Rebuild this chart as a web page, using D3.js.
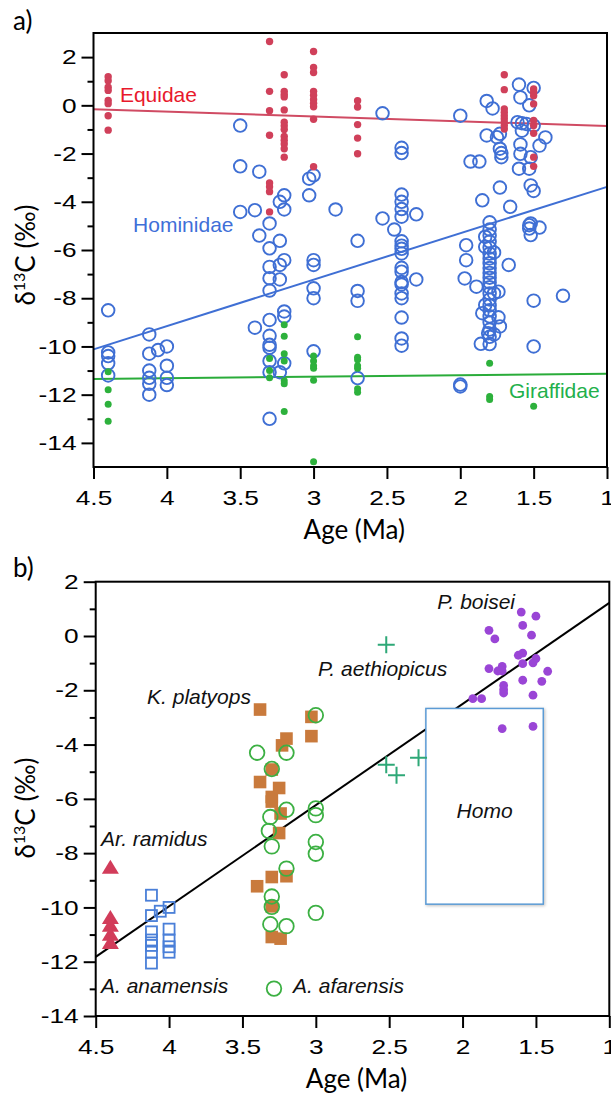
<!DOCTYPE html>
<html>
<head>
<meta charset="utf-8">
<script src="https://cdn.jsdelivr.net/npm/d3@7"></script>
<style>
  body { margin: 0; background: #fff; }
  svg { display: block; }
  .tick text { font-family: "Liberation Sans", Arial, sans-serif; font-size: 21px; fill: #000; }
  .tick line { stroke: #000; stroke-width: 2px; }
  .title { font-family: Lato, "Open Sans", sans-serif; font-size: 26px; fill: #000; }
  .lab { font-family: "Liberation Sans", Arial, sans-serif; font-size: 21px; }
  .sp { font-family: "Liberation Sans", Arial, sans-serif; font-size: 21px; font-style: italic; fill: #111; }
</style>
</head>
<body>
<svg id="chart" width="611" height="1094"></svg>
<script>
// ---------- panel a: [age (Ma), d13C] ----------
const equidae = [
  [4.4, 1.19], [4.4, 1.02], [4.4, 0.75], [4.4, 0.62], [4.4, 0.2], [4.4, 0.07], [4.4, -0.43], [4.4, -1.03],
  [3.3, 2.65], [3.3, 0.58], [3.3, -0.22], [3.3, -1.24], [3.3, -3.22], [3.3, -3.38], [3.3, -3.58], [3.3, -4.42],
  [3.2, 1.27], [3.2, 0.58], [3.2, 0.45], [3.2, 0.35], [3.2, -0.19], [3.2, -0.7], [3.2, -0.85], [3.2, -1.0],
  [3.2, -1.29], [3.2, -1.45], [3.2, -1.6], [3.2, -1.8], [3.2, -2.15],
  [3.0, 2.23], [3.0, 1.57], [3.0, 1.36], [3.0, 0.58], [3.0, 0.42], [3.0, 0.24], [3.0, 0.09], [3.0, -0.06],
  [3.0, -0.58], [3.0, -2.55],
  [2.7, 0.19], [2.7, -0.07], [2.7, -0.8], [2.7, -1.36], [2.7, -2.01],
  [1.7, 1.27], [1.7, 0.65], [1.7, -0.15], [1.7, -0.29], [1.7, -0.43], [1.7, -0.56], [1.7, -0.7], [1.7, -0.84], [1.7, -0.98],
  [1.5, 0.68], [1.5, 0.54], [1.5, 0.4], [1.5, 0.06], [1.5, -0.63], [1.5, -0.84], [1.5, -1.16], [1.5, -2.15], [1.5, -2.53]
];

const giraffidae = [
  [4.4, -11.05], [4.4, -11.8], [4.4, -12.4], [4.4, -13.1],
  [3.3, -10.5], [3.3, -11.0], [3.3, -11.3],
  [3.2, -9.1], [3.2, -9.58], [3.2, -10.3], [3.2, -10.6], [3.2, -11.42], [3.2, -11.55], [3.2, -12.7],
  [3.0, -10.4], [3.0, -10.6], [3.0, -10.8], [3.0, -10.9], [3.0, -11.4], [3.0, -14.78],
  [2.7, -9.6], [2.7, -10.45], [2.7, -10.55], [2.7, -10.8], [2.7, -10.9], [2.7, -11.75], [2.7, -11.9],
  [1.8, -10.7], [1.8, -12.08], [1.8, -12.2],
  [1.5, -12.48]
];

const hominidae = [
  [4.4, -8.5], [4.4, -10.25], [4.4, -10.4], [4.4, -10.7], [4.4, -11.2],
  [4.12, -9.5], [4.12, -10.3], [4.12, -11.0], [4.12, -11.3], [4.12, -11.55], [4.12, -12.0],
  [4.06, -10.15],
  [4.0, -10.0], [4.0, -10.8], [4.0, -11.3], [4.0, -11.6],
  [3.5, -0.84], [3.5, -2.53], [3.5, -4.42],
  [3.4, -4.35], [3.4, -9.22], [3.37, -2.75], [3.37, -5.4],
  [3.3, -4.9], [3.3, -5.93], [3.3, -6.7], [3.3, -7.17], [3.3, -7.68], [3.3, -8.9], [3.3, -9.56], [3.3, -9.93],
  [3.3, -10.05], [3.3, -10.6], [3.3, -11.07], [3.3, -13.0],
  [3.23, -4.0], [3.23, -5.62], [3.23, -6.62], [3.23, -7.22], [3.23, -11.07],
  [3.2, -3.73], [3.2, -4.32], [3.2, -6.42], [3.2, -8.55], [3.2, -8.76], [3.2, -10.7],
  [3.03, -3.04], [3.03, -3.73],
  [3.0, -2.9], [3.0, -6.42], [3.0, -6.62], [3.0, -7.59], [3.0, -8.0], [3.0, -10.2],
  [2.85, -4.32],
  [2.7, -5.62], [2.7, -7.7], [2.7, -8.11], [2.7, -11.31],
  [2.53, -0.33], [2.53, -4.69], [2.45, -5.15],
  [2.4, -1.76], [2.4, -1.98], [2.4, -3.7], [2.4, -4.0], [2.4, -4.3], [2.4, -4.62], [2.4, -5.64], [2.4, -5.82],
  [2.4, -5.95], [2.4, -6.14], [2.4, -6.74], [2.4, -6.9], [2.4, -7.33], [2.4, -7.43], [2.4, -7.8], [2.4, -8.0],
  [2.4, -8.8], [2.4, -9.67], [2.4, -9.97],
  [2.3, -4.52], [2.3, -7.22],
  [2.0, -0.43], [2.0, -11.58], [2.0, -11.66],
  [1.96, -5.8], [1.96, -6.42], [1.97, -7.18], [1.93, -2.33], [1.89, -7.52], [1.87, -2.33], [1.86, -9.89],
  [1.85, -3.94], [1.85, -8.62], [1.83, -5.45], [1.83, -5.87], [1.83, -8.28], [1.82, 0.18], [1.82, -1.25], [1.78, -0.13],
  [1.8, -4.85], [1.8, -5.15], [1.8, -5.4], [1.8, -5.65], [1.8, -5.9], [1.8, -6.15], [1.8, -6.35], [1.8, -6.55],
  [1.8, -6.75], [1.8, -6.95], [1.8, -7.15], [1.8, -7.35], [1.8, -7.55], [1.8, -7.8], [1.8, -8.05], [1.8, -8.3],
  [1.8, -8.5], [1.8, -8.75], [1.8, -9.0], [1.8, -9.3], [1.8, -9.6], [1.8, -9.9],
  [1.81, -9.45], [1.77, -6.1], [1.77, -7.8], [1.77, -9.5],
  [1.75, -1.32], [1.74, -7.73], [1.74, -8.79], [1.73, -1.18], [1.73, -1.8], [1.73, -3.41], [1.73, -9.17],
  [1.72, -1.98], [1.72, -2.15], [1.67, -6.62], [1.66, -4.21],
  [1.6, 0.86], [1.59, 0.33], [1.61, -0.7], [1.58, -0.74], [1.58, -1.05], [1.59, -1.62], [1.59, -2.01], [1.6, -2.63],
  [1.55, -0.77], [1.53, 0.0], [1.53, -2.63], [1.53, -4.97], [1.53, -5.11],
  [1.52, -2.15], [1.52, -3.32], [1.52, -4.9], [1.52, -5.38],
  [1.5, 0.72], [1.5, -0.84], [1.5, -3.55], [1.5, -8.1], [1.5, -10.0],
  [1.46, -1.67], [1.46, -5.07], [1.42, -1.33], [1.3, -7.9]
];

// regression lines, panel a: [age, d13C] at both ends
const fitEquidae = [[4.5, -0.16], [1, -0.86]];
const fitHominidae = [[4.5, -10.12], [1, -3.38]];
const fitGiraffidae = [[4.5, -11.35], [1, -11.13]];

// ---------- panel b ----------
const ramidus = [[4.4, -8.52], [4.4, -10.37], [4.4, -10.66], [4.4, -10.99], [4.4, -11.29]];
const anamensis = [
  [4.12, -9.55], [4.12, -10.3], [4.12, -10.9], [4.12, -11.2], [4.12, -11.4], [4.12, -11.65], [4.12, -12.05],
  [4.06, -10.14], [4.0, -10.0], [4.0, -10.8], [4.0, -11.2], [4.0, -11.45], [4.0, -11.65]
];
const platyops = [
  [3.38, -2.71], [3.2, -3.78], [3.23, -4.03], [3.38, -5.38], [3.25, -5.6], [3.3, -5.93], [3.3, -6.1],
  [3.24, -6.54], [3.25, -7.26], [3.3, -8.88], [3.2, -8.85], [3.4, -9.22], [3.3, -9.96], [3.3, -11.09],
  [3.24, -11.15], [3.03, -2.98], [3.03, -3.69], [3.3, -4.92]
];
const afarensis = [
  [3.4, -4.3], [3.2, -4.3], [3.3, -4.9], [3.2, -6.4], [3.31, -6.67], [3.32, -7.18], [3.3, -7.75],
  [3.2, -8.57], [3.3, -9.6], [3.3, -9.98], [3.31, -10.62], [3.2, -10.69],
  [3.0, -2.92], [3.0, -6.35], [3.0, -6.6], [3.0, -7.59], [3.0, -8.02], [3.0, -10.2]
];
const aethiopicus = [[2.52, -0.32], [2.52, -4.74], [2.45, -5.13], [2.3, -4.49]];
const boisei = [
  [1.6, 0.88], [1.5, 0.73], [1.59, 0.39], [1.82, 0.21], [1.53, 0.03], [1.78, -0.11], [1.59, -0.63],
  [1.62, -0.71], [1.5, -0.83], [1.59, -1.02], [1.52, -0.99], [1.82, -1.2], [1.73, -1.12], [1.76, -1.29],
  [1.73, -1.29], [1.42, -1.3], [1.59, -1.63], [1.46, -1.67], [1.72, -1.82], [1.72, -1.98], [1.72, -2.1],
  [1.52, -2.18], [1.93, -2.31], [1.87, -2.31], [1.73, -3.41], [1.52, -3.33]
];
const homoAges = [2.25, 1.45];
const homoRange = [-2.67, -9.88];
const fitHominins = [[4.5, -11.82], [1, 1.22]];

// ---------- axes ----------
const ageTicks = [4.5, 4, 3.5, 3, 2.5, 2, 1.5, 1];
const majorA = [2, 0, -2, -4, -6, -8, -10, -12, -14];
const minorA = [1, -1, -3, -5, -7, -9, -11, -13];
const majorB = [2, 0, -2, -4, -6, -8, -10, -12, -14];
const minorB = [1, -1, -3, -5, -7, -9, -11, -13];

// text labels: [text, age, d13C]
const labelsA = [["Equidae", 4.32, 0.12, "#e8192c"], ["Hominidae", 4.23, -5.25, "#3f6fd8"], ["Giraffidae", 1.668, -12.13, "#22b04b"]];
const labelsB = [
  ["P. boisei", 2.173, 1.0], ["P. aethiopicus", 2.985, -1.47], ["K. platyops", 4.15, -2.49],
  ["Ar. ramidus", 4.464, -7.72], ["A. anamensis", 4.464, -13.17], ["A. afarensis", 3.155, -13.17]
];
const afarensisKey = [3.285, -12.99];

const svg = d3.select("#chart");
const fmt = d => String(d); // plain hyphen minus, like the figure

function panel(xRange, yDomain, yRange, major, minor, tag, tagY, titleY) {
  const x = d3.scaleLinear().domain([4.5, 1]).range(xRange);
  const y = d3.scaleLinear().domain(yDomain).range(yRange);
  const g = svg.append("g");

  // minor ticks
  g.append("g").attr("transform", `translate(${xRange[0]},0)`)
    .call(d3.axisLeft(y).tickValues(minor).tickSize(6).tickFormat(""))
    .call(a => a.select(".domain").remove());
  // major ticks
  g.append("g").attr("transform", `translate(${xRange[0]},0)`)
    .call(d3.axisLeft(y).tickValues(major).tickSize(12).tickFormat(fmt))
    .call(a => a.select(".domain").remove())
    .call(a => a.selectAll(".tick text").attr("x", 0).attr("transform", "translate(-17,0) scale(1.25,1)"));
  g.append("g").attr("transform", `translate(0,${yRange[0]})`)
    .call(d3.axisBottom(x).tickValues(ageTicks).tickSize(12).tickPadding(11).tickFormat(fmt))
    .call(a => a.select(".domain").remove())
    .call(a => a.selectAll(".tick text").attr("transform", "scale(1.25,1)"));

  g.append("text").attr("class", "title").attr("x", 13).attr("y", tagY).text(tag);
  g.append("text").attr("class", "title").attr("text-anchor", "middle")
    .attr("x", (xRange[0] + xRange[1]) / 2 + 4).attr("y", yRange[0] + 72).text("Age (Ma)");
  const yt = g.append("text").attr("class", "title").attr("text-anchor", "middle")
    .attr("transform", `translate(35,${titleY}) rotate(-90)`);
  yt.append("tspan").text("δ");
  yt.append("tspan").attr("font-size", 16).attr("dy", -10).text("13");
  yt.append("tspan").attr("dy", 10).text("C (‰)");

  const plot = g.append("g");
  g.append("rect")
    .attr("x", xRange[0]).attr("y", yRange[1])
    .attr("width", xRange[1] - xRange[0]).attr("height", yRange[0] - yRange[1])
    .attr("fill", "none").attr("stroke", "#000").attr("stroke-width", 2);
  return { x, y, plot };
}

const line = (x, y) => d3.line().x(d => x(d[0])).y(d => y(d[1]));

// ---------- panel a ----------
{
  const { x, y, plot } = panel([93.5, 607], [-15, 3], [467, 33], majorA, minorA, "a)", 30, 255);
  const l = line(x, y);
  plot.append("path").attr("d", l(fitEquidae)).attr("stroke", "#d04b63").attr("stroke-width", 2).attr("fill", "none");
  plot.append("path").attr("d", l(fitHominidae)).attr("stroke", "#3f6fd4").attr("stroke-width", 2).attr("fill", "none");
  plot.append("path").attr("d", l(fitGiraffidae)).attr("stroke", "#2aac3a").attr("stroke-width", 2).attr("fill", "none");

  plot.selectAll(".hom").data(hominidae).join("circle")
    .attr("cx", d => x(d[0])).attr("cy", d => y(d[1])).attr("r", 6.3)
    .attr("fill", "none").attr("stroke", "#3f6fd4").attr("stroke-width", 1.9);
  plot.selectAll(".equ").data(equidae).join("circle")
    .attr("cx", d => x(d[0])).attr("cy", d => y(d[1])).attr("r", 3.7).attr("fill", "#d0405a");
  plot.selectAll(".gir").data(giraffidae).join("circle")
    .attr("cx", d => x(d[0])).attr("cy", d => y(d[1])).attr("r", 3.5).attr("fill", "#2db13c");

  plot.selectAll(".labA").data(labelsA).join("text").attr("class", "lab")
    .attr("x", d => x(d[1])).attr("y", d => y(d[2])).attr("fill", d => d[3]).text(d => d[0]);
}

// ---------- panel b ----------
{
  const { x, y, plot } = panel([95.7, 609.3], [-14, 2], [1016, 581.7], majorB, minorB, "b)", 577, 808);
  const l = line(x, y);
  plot.append("path").attr("d", l(fitHominins)).attr("stroke", "#000").attr("stroke-width", 2).attr("fill", "none");

  // Homo box (white fill hides the line behind it)
  plot.append("rect")
    .attr("x", x(homoAges[0])).attr("y", y(homoRange[0]))
    .attr("width", x(homoAges[1]) - x(homoAges[0])).attr("height", y(homoRange[1]) - y(homoRange[0]))
    .attr("fill", "#fff").attr("stroke", "#5b9bd5").attr("stroke-width", 1.5)
    .style("filter", "drop-shadow(1px 1px 1.5px rgba(0,0,0,0.25))");
  plot.append("text").attr("class", "sp").attr("text-anchor", "middle")
    .attr("x", x((homoAges[0] + homoAges[1]) / 2)).attr("y", y(-6.72)).text("Homo");

  plot.selectAll(".tri").data(ramidus).join("path")
    .attr("d", d => { const cx = x(d[0]), cy = y(d[1]); return `M${cx},${cy - 7.5}L${cx + 8.5},${cy + 6.5}L${cx - 8.5},${cy + 6.5}Z`; })
    .attr("fill", "#d23c5a");
  plot.selectAll(".ana").data(anamensis).join("rect")
    .attr("x", d => x(d[0]) - 5.5).attr("y", d => y(d[1]) - 5.5).attr("width", 11).attr("height", 11)
    .attr("fill", "none").attr("stroke", "#4a7fd8").attr("stroke-width", 1.8);
  plot.selectAll(".pla").data(platyops).join("rect")
    .attr("x", d => x(d[0]) - 6.3).attr("y", d => y(d[1]) - 6.3).attr("width", 12.6).attr("height", 12.6)
    .attr("fill", "#c97a3c");
  plot.selectAll(".afa").data(afarensis).join("circle")
    .attr("cx", d => x(d[0])).attr("cy", d => y(d[1])).attr("r", 7.3)
    .attr("fill", "none").attr("stroke", "#3cb043").attr("stroke-width", 1.8);
  plot.selectAll(".aet").data(aethiopicus).join("path")
    .attr("d", d => { const cx = x(d[0]), cy = y(d[1]); return `M${cx - 8.5},${cy}H${cx + 8.5}M${cx},${cy - 8.5}V${cy + 8.5}`; })
    .attr("stroke", "#2ea877").attr("stroke-width", 2).attr("fill", "none");
  plot.selectAll(".boi").data(boisei).join("circle")
    .attr("cx", d => x(d[0])).attr("cy", d => y(d[1])).attr("r", 4.4).attr("fill", "#9a45d6");

  plot.append("circle").attr("cx", x(afarensisKey[0])).attr("cy", y(afarensisKey[1])).attr("r", 7.3)
    .attr("fill", "none").attr("stroke", "#3cb043").attr("stroke-width", 1.8);
  plot.selectAll(".labB").data(labelsB).join("text").attr("class", "sp")
    .attr("x", d => x(d[1])).attr("y", d => y(d[2])).text(d => d[0]);
}
</script>
</body>
</html>
